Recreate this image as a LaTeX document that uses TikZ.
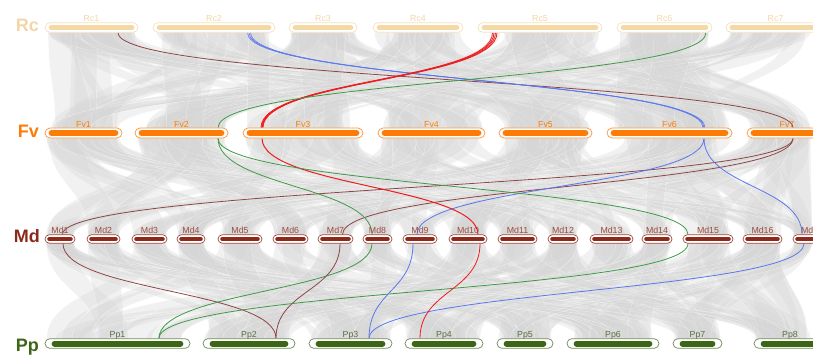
\documentclass[tikz,border=0pt]{standalone}
\usepackage{fontspec}
\setmainfont{Liberation Sans}
\pgfdeclarelayer{back}
\pgfsetlayers{back,main}

% track colours
\definecolor{rcC}{HTML}{F4D8A6}
\definecolor{rcB}{HTML}{F6E0BC}
\definecolor{rcT}{HTML}{F2D6A8}
\definecolor{fvC}{HTML}{FB7D07}
\definecolor{fvB}{HTML}{FA9440}
\definecolor{mdC}{HTML}{8A2A1C}
\definecolor{mdB}{HTML}{9C4B3E}
\definecolor{ppC}{HTML}{3C6615}
\definecolor{ppB}{HTML}{6E8C56}
% highlighted links
\definecolor{lkBrown}{HTML}{8E4545}
\definecolor{lkBlue}{HTML}{5A78EE}
\definecolor{lkRed}{HTML}{EE1C1C}
\definecolor{lkGreen}{HTML}{3E9A45}

\newcommand\chrfont{\fontsize{8.8}{10}\selectfont}

\tikzset{
  chrbase/.style={draw, fill=white, inner sep=0pt, line width=0.7pt},
  chrRc/.style={chrbase, draw=rcB, minimum height=9.6pt, rounded corners=4.8pt},
  chrFv/.style={chrbase, draw=fvB, minimum height=10pt, rounded corners=5pt},
  chrMd/.style={chrbase, draw=mdB, minimum height=8.4pt, rounded corners=4.2pt},
  chrPp/.style={chrbase, draw=ppB, minimum height=9.6pt, rounded corners=4.8pt},
  barRc/.style={line width=5pt, line cap=round, draw=rcC},
  barFv/.style={line width=6pt, line cap=round, draw=fvC},
  barMd/.style={line width=4.5pt, line cap=round, draw=mdC},
  barPp/.style={line width=6pt, line cap=round, draw=ppC},
  clabRc/.style={anchor=base, inner sep=0pt, text=rcT, font=\chrfont},
  clabFv/.style={anchor=base, inner sep=0pt, text=fvC, font=\chrfont},
  clabMd/.style={anchor=base, inner sep=0pt, text=mdB, font=\chrfont},
  clabPp/.style={anchor=base, inner sep=0pt, text=ppB!80!black, font=\chrfont},
  rowlab/.style={anchor=base east, inner sep=0pt, font=\fontsize{18}{20}\selectfont\bfseries},
  ribbon/.style={fill=black!16, fill opacity=0.33, draw=white, draw opacity=0.5, line width=0.35pt},
  link/.style={line width=0.8pt},
}

% one chromosome: name, left, right, centre y, row, bar inset
\newcommand\chromo[6]{%
  \node[chr#5, minimum width={#3-#2}] (#1) at ({(#2+#3)/2},#4) {};
  \draw[bar#5] ([xshift=#6pt]#1.west) -- ([xshift=-#6pt]#1.east);
  \node[clab#5] (#1-t) at ([yshift=0.5pt]#1.north) {#1};
}

% grey synteny ribbons between two rows
% #1,#2 starts/ends of upper row, #3 count; #4,#5,#6 same for lower row;
% #7 upper y, #8 lower y, #9 number of ribbons
\newcommand\ribbons[9]{%
  \foreach \k in {1,...,#9}{%
    \pgfmathtruncatemacro\rIa{rnd*(#3-0.001)}%
    \pgfmathtruncatemacro\rIb{rnd*(#6-0.001)}%
    \pgfmathsetmacro\rSa{#1[\rIa]}%
    \pgfmathsetmacro\rEa{#2[\rIa]}%
    \pgfmathsetmacro\rSb{#4[\rIb]}%
    \pgfmathsetmacro\rEb{#5[\rIb]}%
    \pgfmathsetmacro\rWa{min(7+rnd*34,\rEa-\rSa-2)}%
    \pgfmathsetmacro\rWb{min(\rWa*(0.6+0.8*rnd),\rEb-\rSb-2)}%
    \pgfmathsetmacro\rXa{\rSa+1+rnd*(\rEa-\rSa-2-\rWa)}%
    \pgfmathsetmacro\rXb{\rXa+\rWa}%
    \pgfmathsetmacro\rXc{\rSb+1+rnd*(\rEb-\rSb-2-\rWb)}%
    \pgfmathsetmacro\rXd{\rXc+\rWb}%
    \pgfmathsetmacro\rYm{(#7+#8)/2}%
    \filldraw[ribbon] (\rXa,#7) .. controls (\rXa,\rYm) and (\rXc,\rYm) .. (\rXc,#8)
      -- (\rXd,#8) .. controls (\rXd,\rYm) and (\rXb,\rYm) .. (\rXb,#7) -- cycle;
  }%
}

\begin{document}
\begin{tikzpicture}[x=1pt,y=-1pt]
\useasboundingbox (0,0) rectangle (813,354);

% row titles
\node[rowlab, text=rcT] (rowRc) at (39,31.7) {Rc};
\node[rowlab, text=fvC] (rowFv) at (39,137) {Fv};
\node[rowlab, text=mdC] (rowMd) at (40,242) {Md};
\node[rowlab, text=ppC] (rowPp) at (39,351.5) {Pp};

% Rc
\chromo{Rc1}{45}{138}{27.5}{Rc}{6.5}
\chromo{Rc2}{153}{275}{27.5}{Rc}{6.5}
\chromo{Rc3}{289}{357}{27.5}{Rc}{6.5}
\chromo{Rc4}{373}{463}{27.5}{Rc}{6.5}
\chromo{Rc5}{478}{602}{27.5}{Rc}{6.5}
\chromo{Rc6}{617}{712}{27.5}{Rc}{6.5}
\chromo{Rc7}{726}{825}{27.5}{Rc}{6.5}
% Fv
\chromo{Fv1}{45}{122}{133}{Fv}{7}
\chromo{Fv2}{135}{228}{133}{Fv}{7}
\chromo{Fv3}{243}{363}{133}{Fv}{7}
\chromo{Fv4}{378}{485}{133}{Fv}{7}
\chromo{Fv5}{499}{592}{133}{Fv}{7}
\chromo{Fv6}{607}{732}{133}{Fv}{7}
\chromo{Fv7}{747}{827}{133}{Fv}{7}
% Md
\chromo{Md1}{45}{75}{239}{Md}{4.8}
\chromo{Md2}{87}{120}{239}{Md}{4.8}
\chromo{Md3}{132}{167}{239}{Md}{4.8}
\chromo{Md4}{177}{205}{239}{Md}{4.8}
\chromo{Md5}{218}{262}{239}{Md}{4.8}
\chromo{Md6}{273}{308}{239}{Md}{4.8}
\chromo{Md7}{318}{353}{239}{Md}{4.8}
\chromo{Md8}{363}{392}{239}{Md}{4.8}
\chromo{Md9}{403}{437}{239}{Md}{4.8}
\chromo{Md10}{449}{487}{239}{Md}{4.8}
\chromo{Md11}{498}{537}{239}{Md}{4.8}
\chromo{Md12}{548}{578}{239}{Md}{4.8}
\chromo{Md13}{590}{633}{239}{Md}{4.8}
\chromo{Md14}{642}{672}{239}{Md}{4.8}
\chromo{Md15}{683}{733}{239}{Md}{4.8}
\chromo{Md16}{743}{782}{239}{Md}{4.8}
\chromo{Md17}{793}{831}{239}{Md}{4.8}
% Pp
\chromo{Pp1}{45}{190}{343.5}{Pp}{10}
\chromo{Pp2}{203}{295}{343.5}{Pp}{10}
\chromo{Pp3}{309}{392}{343.5}{Pp}{10}
\chromo{Pp4}{405}{483}{343.5}{Pp}{10}
\chromo{Pp5}{497}{553}{343.5}{Pp}{10}
\chromo{Pp6}{567}{659}{343.5}{Pp}{10}
\chromo{Pp7}{673}{722}{343.5}{Pp}{10}
\chromo{Pp8}{754}{826}{343.5}{Pp}{10}

\begin{pgfonlayer}{back}
  \pgfmathsetseed{12}
  \ribbons{{45,153,289,373,478,617,726}}{{138,275,357,463,602,712,813}}{7}%
          {{45,135,243,378,499,607,747}}{{122,228,363,485,592,732,813}}{7}{32.3}{128}{150}
  \ribbons{{45,135,243,378,499,607,747}}{{122,228,363,485,592,732,813}}{7}%
          {{45,87,132,177,218,273,318,363,403,449,498,548,590,642,683,743,793}}%
          {{75,120,167,205,262,308,353,392,437,487,537,578,633,672,733,782,813}}{17}{138}{235}{160}
  \ribbons{{45,87,132,177,218,273,318,363,403,449,498,548,590,642,683,743,793}}%
          {{75,120,167,205,262,308,353,392,437,487,537,578,633,672,733,782,813}}{17}%
          {{45,203,309,405,497,567,673,754}}{{190,295,392,483,553,659,722,813}}{8}{243}{339}{160}

  % Rc -> Fv
  \draw[link, lkBrown] ([xshift=26.5pt]Rc1.south) .. controls +(0,48) and +(0,-48) .. ([xshift=6pt]Fv7.north);
  \foreach \o/\p in {-1.5/-1,0/0,1.5/1}
    \draw[link, lkBlue, line width=0.6pt] ([xshift={35+\o}]Rc2.south) .. controls +(0,48) and +(0,-48) .. ([xshift={34.5+\p}]Fv6.north);
  \foreach \o/\p in {-2.5/-1,-1/-0.3,0.5/0.3,2/1}
    \draw[link, lkRed] ([xshift={-45+\o}]Rc5.south) .. controls +(0,48) and +(0,-48) .. ([xshift={-41+\p}]Fv3.north);
  \draw[link, lkGreen] ([xshift=41.5pt]Rc6.south) .. controls +(0,48) and +(0,-48) .. ([xshift=36.5pt]Fv2.north);

  % Fv -> Md
  \draw[link, lkBrown] ([xshift=6pt]Fv7.south) .. controls +(0,48) and +(0,-48) .. ([xshift=2.5pt]Md1.north);
  \draw[link, lkBrown] ([xshift=6pt]Fv7.south) .. controls +(0,48) and +(0,-48) .. ([xshift=7pt]Md7.north);
  \draw[link, lkBlue] ([xshift=34.5pt]Fv6.south) .. controls +(0,48) and +(0,-48) .. ([xshift=-3pt]Md9.north);
  \draw[link, lkBlue] ([xshift=34.5pt]Fv6.south) .. controls +(0,48) and +(0,-48) .. ([xshift=-10pt]Md17.north);
  \draw[link, lkRed, line width=1pt] ([xshift=-41pt]Fv3.south) .. controls +(0,48) and +(0,-48) .. ([xshift=10pt]Md10.north);
  \draw[link, lkGreen] ([xshift=36.5pt]Fv2.south) .. controls +(0,48) and +(0,-48) .. ([xshift=-5.5pt]Md8.north);
  \draw[link, lkGreen] ([xshift=36.5pt]Fv2.south) .. controls +(0,48) and +(0,-48) .. ([xshift=-20pt]Md15.north);

  % Md -> Pp
  \draw[link, lkBrown] ([xshift=3pt]Md1.south) .. controls +(0,48) and +(0,-48) .. ([xshift=27pt]Pp2.north);
  \draw[link, lkBrown] ([xshift=4.5pt]Md7.south) .. controls +(0,48) and +(0,-48) .. ([xshift=27pt]Pp2.north);
  \draw[link, lkGreen] ([xshift=-5.5pt]Md8.south) .. controls +(0,48) and +(0,-48) .. ([xshift=41.5pt]Pp1.north);
  \draw[link, lkGreen] ([xshift=-20pt]Md15.south) .. controls +(0,48) and +(0,-48) .. ([xshift=41.5pt]Pp1.north);
  \draw[link, lkBlue] ([xshift=-7pt]Md9.south) .. controls +(0,48) and +(0,-48) .. ([xshift=18.5pt]Pp3.north);
  \draw[link, lkBlue] ([xshift=-8pt]Md17.south) .. controls +(0,48) and +(0,-48) .. ([xshift=18.5pt]Pp3.north);
  \draw[link, lkRed] ([xshift=12pt]Md10.south) .. controls +(0,48) and +(0,-48) .. ([xshift=-24pt]Pp4.north);
\end{pgfonlayer}
\end{tikzpicture}
\end{document}
